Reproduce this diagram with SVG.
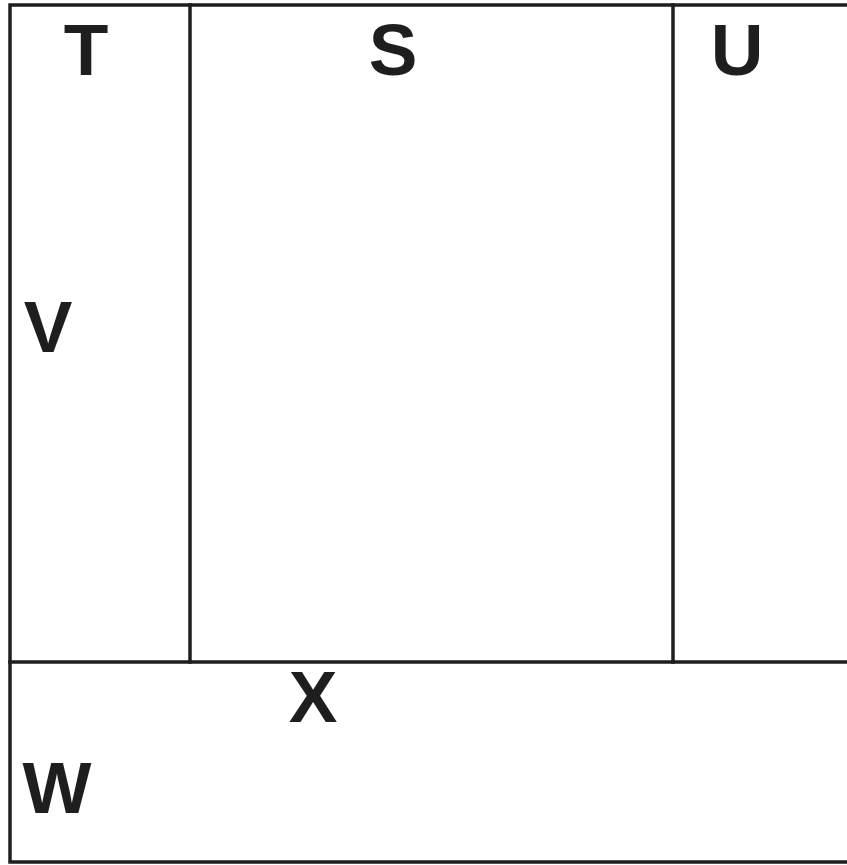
<svg xmlns="http://www.w3.org/2000/svg" width="847" height="865" viewBox="0 0 847 865">
<style>
.ln{stroke:#1e1e1e;stroke-width:3.5;fill:none;stroke-linecap:square}
.lb{font-family:"Liberation Sans",Arial,sans-serif;font-weight:bold;font-size:73px;fill:#1e1e1e;text-anchor:middle}
</style>
<rect width="847" height="865" fill="#fff"/>
<g id="connectors">
<path class="ln" d="M849 5 H10 V862 H849"/>
<line class="ln" x1="190" y1="5" x2="190" y2="662"/>
<line class="ln" x1="673" y1="5" x2="673" y2="662"/>
<line class="ln" x1="10" y1="662" x2="849" y2="662"/>
</g>
<g id="T"><text class="lb" x="86" y="75">T</text></g>
<g id="S"><text class="lb" x="393" y="75">S</text></g>
<g id="U"><text class="lb" x="737" y="75">U</text></g>
<g id="V"><text class="lb" x="48" y="352">V</text></g>
<g id="X"><text class="lb" x="313" y="722">X</text></g>
<g id="W"><text class="lb" x="57" y="813">W</text></g>
</svg>
